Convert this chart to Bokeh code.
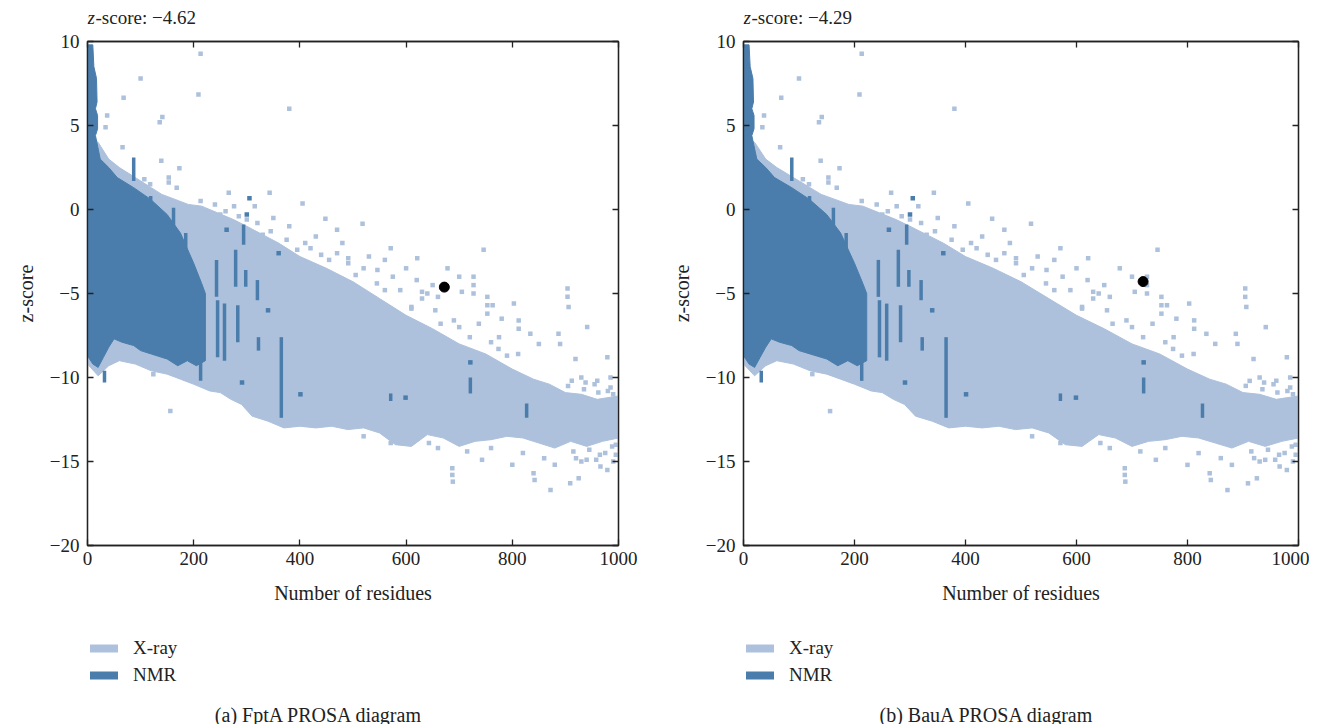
from bokeh.plotting import figure
from bokeh.models import (LinearAxis, Range1d, FixedTicker, Label, Legend, LegendItem)
from bokeh.layouts import row, column
from bokeh.embed import file_html
from bokeh.resources import INLINE

XRAY = "#adc1dc"
NMR = "#4a7dab"
INK = "#222222"
FONT = "Liberation Serif"
NAN = float("nan")

# ---------------- data ----------------
x_ticks = [0, 200, 400, 600, 800, 1000]
y_ticks = [-20, -15, -10, -5, 0, 5, 10]
y_tick_labels = ["\u221220", "\u221215", "\u221210", "\u22125", "0", "5", "10"]

# X-ray cloud envelope (dense part)
xray_top_x = [0, 20, 40, 60, 90, 120, 140, 165, 190, 215, 245, 275, 300, 330, 360, 400, 450, 500,
              550, 600, 650, 700, 750, 800, 840, 870, 900, 930, 960, 1000]
xray_top_y = [4.3, 4.0, 3.0, 2.5, 1.9, 1.3, 0.9, 0.6, 0.3, 0.2, -0.2, -0.6, -1.0, -1.5, -2.0, -2.8, -3.5, -4.3,
              -5.3, -6.3, -7.1, -8.0, -8.6, -9.5, -10.1, -10.4, -10.9, -11.0, -11.3, -11.1]
xray_bot_x = [1000, 970, 940, 910, 880, 850, 820, 790, 760, 730, 700, 670, 640, 610, 580, 550, 520, 490,
              460, 430, 400, 370, 340, 310, 290, 270, 250, 230, 200, 175, 150, 120, 90, 60, 40, 20, 0]
xray_bot_y = [-13.6, -13.8, -14.1, -13.8, -14.2, -13.9, -13.6, -13.5, -13.7, -13.8, -14.1, -13.6, -13.4, -14.1, -14.0,
              -13.3, -13.0, -13.1, -12.9, -13.0, -12.9, -13.0, -12.6, -12.3, -11.6, -11.3, -10.9, -10.8, -10.4,
              -10.1, -9.8, -9.6, -9.2, -9.0, -9.3, -9.9, -9.2]

# NMR cloud envelope
nmr_top_x = [0, 10, 12, 17, 18, 15, 19, 19, 15, 24, 40, 56, 87, 119, 150, 175, 200, 215, 222]
nmr_top_y = [9.8, 9.8, 8.5, 7.8, 6.4, 6.0, 5.6, 4.8, 4.4, 3.0, 2.5, 1.9, 1.3, 0.6, -0.3, -1.4, -3.2, -4.4, -5.0]
nmr_bot_x = [222, 205, 188, 170, 150, 120, 100, 87, 65, 50, 40, 30, 20, 10, 0]
nmr_bot_y = [-9.0, -9.3, -9.0, -9.3, -8.9, -8.6, -8.4, -8.1, -7.9, -7.7, -8.2, -8.8, -9.4, -9.2, -8.7]

# NMR vertical streaks (x, from, to)
streak_x = [87, 119, 162, 185, 213, 243, 245, 258, 279, 283, 294, 298, 320, 322, 365, 571, 721, 827, 32]
streak_y0 = [1.7, -0.25, -1.9, -3.0, -10.2, -5.2, -8.8, -9.0, -4.6, -7.9, -2.1, -4.6, -5.4, -8.4, -12.4, -11.4, -10.95, -12.4, -10.3]
streak_y1 = [3.1, 0.8, 0.1, -1.4, -8.8, -3.0, -5.4, -5.6, -2.4, -5.7, -0.9, -3.6, -4.2, -7.6, -7.6, -10.95, -10.0, -11.55, -9.6]

# isolated NMR points
nmr_px = [305, 300, 360, 401, 599, 721, 291, 340, 262]
nmr_py = [0.67, -0.3, -2.6, -11.0, -11.2, -9.1, -10.3, -6.0, -1.2]

# isolated X-ray points
xray_px = [213, 100, 68, 209, 380, 141, 136, 37, 34, 66, 139, 173, 107, 118, 168, 153, 153, 266, 343, 276,
           315, 405, 213, 240, 250, 448, 518, 746, 571, 621, 678, 727, 727, 727, 753, 753, 753, 763, 803, 812,
           812, 834, 904, 904, 906, 941, 887, 890, 919, 979, 690, 737, 775, 774, 811, 650, 700, 640, 600, 560,
           530, 480, 470, 430, 380, 350, 330, 395, 440, 410, 546, 589,
           687, 687, 688, 800, 840, 842, 872, 909, 925, 966, 979, 743, 715, 571, 643, 156, 124, 860, 880, 820,
           760, 940, 990, 995, 660, 520, 950, 970, 990, 985, 960, 930, 655, 610, 700, 760, 790,
           491, 491, 630, 630, 660, 705, 780, 850, 620, 575, 520, 545, 470, 455,
           905, 915, 935, 955, 975, 995, 920, 945, 965, 985, 912, 938, 962, 988, 930, 958, 980,
           285, 320, 345, 375, 420, 505, 560, 610, 665, 720, 260, 300]
xray_py = [9.27, 7.8, 6.65, 6.85, 6.0, 5.5, 5.2, 5.6, 4.9, 3.7, 2.9, 2.45, 1.8, 1.5, 1.3, 1.9, 1.6, 1.0, 1.0, 0.2,
           0.2, 0.35, 0.5, 0.3, -0.3, -0.55, -0.85, -2.4, -2.3, -2.9, -3.5, -4.0, -4.5, -5.0, -5.2, -5.7, -6.2, -5.7, -5.6, -6.6,
           -7.1, -7.4, -4.7, -5.2, -5.8, -7.0, -7.4, -8.0, -8.9, -8.8, -6.6, -6.8, -7.6, -8.3, -8.6, -4.5, -4.0, -5.0, -3.5, -3.0,
           -2.8, -2.0, -1.2, -1.6, -1.0, -0.5, -1.5, -2.4, -2.7, -2.0, -3.6, -4.8,
           -15.4, -15.8, -16.2, -15.2, -15.7, -16.1, -16.7, -16.3, -16.0, -15.3, -15.5, -14.9, -14.4, -13.9, -13.9, -12.0, -9.8, -14.8, -15.2, -14.5,
           -14.2, -14.9, -15.0, -14.0, -14.2, -13.5, -11.5, -12.0, -11.0, -10.0, -10.2, -10.0, -6.0, -5.8, -7.0, -7.9, -8.7,
           -2.9, -3.2, -4.9, -5.3, -5.2, -4.9, -6.5, -8.0, -4.2, -4.0, -3.5, -4.4, -2.6, -3.0,
           -10.5, -14.4, -10.7, -10.4, -14.5, -14.6, -14.8, -14.3, -14.6, -10.6, -10.2, -10.3, -10.9, -14.1, -15.0, -14.9, -10.8,
           -0.4, -0.8, -1.3, -1.8, -2.3, -3.9, -4.8, -5.9, -6.8, -7.6, -0.1, -0.6]

legend_labels = ["X-ray", "NMR"]

# the two panels
panel_scores = [-4.62, -4.29]
panel_residues = [672, 720]
panel_captions = ["(a)  FptA PROSA diagram", "(b)  BauA PROSA diagram"]

# ---------------- layout numbers (pixels) ----------------
panel_frame_w = [531, 555]
panel_border_l = [87, 79]
panel_border_r = [46, 11]
panel_caption_cx = [234, 246]   # relative to frame left
TOP_H = 28
MAIN_TOP = 13
FRAME_H = 504
MAIN_BOTTOM = 65
BOTTOM_H = 114


def fmt(v):
    return ("\u2212" if v < 0 else "") + ("%.2f" % abs(v))


def strip(i, height):
    fw = panel_frame_w[i]
    s = figure(frame_width=fw, frame_height=height, x_range=Range1d(0, fw),
               y_range=Range1d(height, 0), min_border_left=panel_border_l[i],
               min_border_right=panel_border_r[i], min_border_top=0, min_border_bottom=0,
               output_backend="svg", toolbar_location=None, outline_line_color=None,
               background_fill_color="white", border_fill_color="white")
    s.axis.visible = False
    s.grid.visible = False
    return s


def make_main(i):
    fw = panel_frame_w[i]
    p = figure(frame_width=fw, frame_height=FRAME_H, x_range=Range1d(0, 1000), y_range=Range1d(-20, 10),
               min_border_left=panel_border_l[i], min_border_right=panel_border_r[i], min_border_top=MAIN_TOP,
               min_border_bottom=MAIN_BOTTOM, output_backend="svg", toolbar_location=None,
               background_fill_color="white", border_fill_color="white")
    p.grid.visible = False
    p.outline_line_color = INK
    p.outline_line_width = 1.3

    p.patch(xray_top_x + xray_bot_x, xray_top_y + xray_bot_y, fill_color=XRAY, line_color=XRAY, line_width=1)
    p.scatter(xray_px, xray_py, marker="square", size=4.5, fill_color=XRAY, line_color=None)
    p.patch(nmr_top_x + nmr_bot_x, nmr_top_y + nmr_bot_y, fill_color=NMR, line_color=NMR, line_width=1)
    p.segment(x0=streak_x, y0=streak_y0, x1=streak_x, y1=streak_y1, line_color=NMR, line_width=3.5,
              line_cap="butt")
    p.scatter(nmr_px, nmr_py, marker="square", size=4.5, fill_color=NMR, line_color=None)
    p.scatter([panel_residues[i]], [panel_scores[i]], marker="circle", size=10, fill_color="black",
              line_color="black")

    for ax in (p.xaxis[0], p.yaxis[0]):
        ax.major_tick_in = 6
        ax.major_tick_out = 0
        ax.minor_tick_line_color = None
        ax.axis_line_color = INK
        ax.axis_line_width = 1.3
        ax.major_tick_line_color = INK
        ax.major_tick_line_width = 1.3
        ax.major_label_text_font = FONT
        ax.major_label_text_font_size = "19px"
        ax.major_label_text_color = INK
        ax.axis_label_text_font = FONT
        ax.axis_label_text_font_size = "20px"
        ax.axis_label_text_font_style = "normal"
        ax.axis_label_text_color = INK
    p.xaxis[0].ticker = FixedTicker(ticks=x_ticks)
    p.yaxis[0].ticker = FixedTicker(ticks=y_ticks)
    p.yaxis[0].major_label_overrides = {t: l for t, l in zip(y_ticks, y_tick_labels)}
    p.xaxis[0].axis_label = "Number of residues"
    p.yaxis[0].axis_label = "z-score"
    p.xaxis[0].major_label_standoff = 6
    p.xaxis[0].axis_label_standoff = 14
    p.yaxis[0].major_label_standoff = 8
    p.yaxis[0].axis_label_standoff = 10

    for side, ticks in (("above", x_ticks), ("right", y_ticks)):
        ax = LinearAxis(ticker=FixedTicker(ticks=ticks), major_tick_in=6, major_tick_out=0,
                        minor_tick_line_color=None, axis_line_color=INK, axis_line_width=1.3,
                        major_tick_line_color=INK, major_tick_line_width=1.3,
                        major_label_overrides={t: "" for t in ticks},
                        major_label_text_font_size="1px", major_label_standoff=0)
        p.add_layout(ax, side)
    return p


def make_top(i):
    s = strip(i, TOP_H)
    s.add_layout(Label(x=0, y=17, text="z", text_font=FONT, text_font_size="19px",
                       text_font_style="italic", text_color=INK, text_baseline="middle", text_align="left"))
    s.add_layout(Label(x=8, y=17, text="-score: " + fmt(panel_scores[i]), text_font=FONT,
                       text_font_size="19px", text_color=INK, text_baseline="middle", text_align="left"))
    return s


def make_bottom(i):
    s = strip(i, BOTTOM_H)
    r1 = s.quad(left=[NAN], right=[NAN], top=[NAN], bottom=[NAN], fill_color=XRAY, line_color=None)
    r2 = s.quad(left=[NAN], right=[NAN], top=[NAN], bottom=[NAN], fill_color=NMR, line_color=None)
    leg = Legend(items=[LegendItem(label=legend_labels[0], renderers=[r1]),
                        LegendItem(label=legend_labels[1], renderers=[r2])],
                 location=(-1, BOTTOM_H - 76), orientation="vertical",
                 glyph_width=35, glyph_height=10, label_text_font=FONT, label_text_font_size="19px",
                 label_text_color=INK, label_standoff=12, spacing=5, padding=0, margin=0,
                 border_line_alpha=0, background_fill_alpha=0, label_height=20)
    s.add_layout(leg)
    s.add_layout(Label(x=panel_caption_cx[i], y=BOTTOM_H - 10, text=panel_captions[i], text_font=FONT,
                       text_font_size="20px", text_color=INK, text_align="center", text_baseline="middle"))
    return s


cols = [column(make_top(i), make_main(i), make_bottom(i), spacing=0) for i in range(2)]
layout = row(*cols, spacing=0)
open("out.html", "w").write(file_html(layout, INLINE))
